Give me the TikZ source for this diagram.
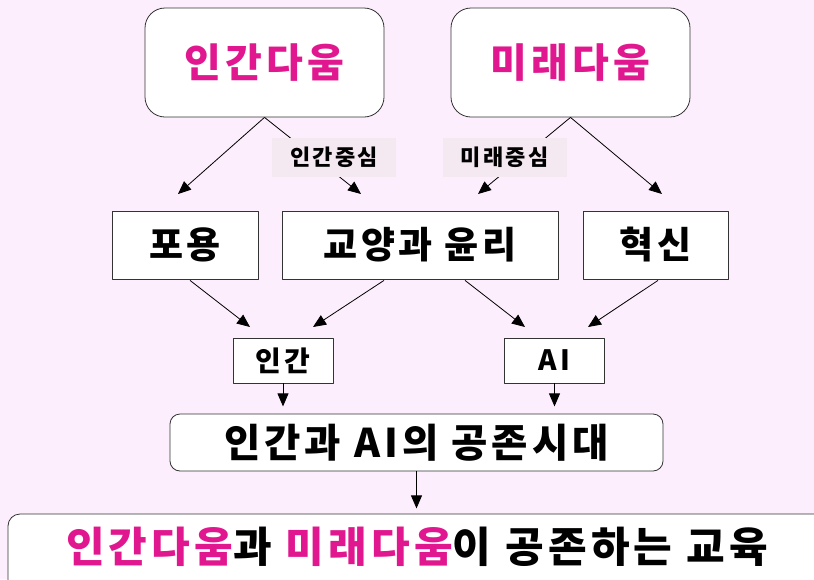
\documentclass[tikz,border=0pt]{standalone}
\usepackage{fontspec}
\setmainfont{Noto Sans CJK KR}[LetterSpace=10,BoldFont={Noto Sans CJK KR Black}]
\usetikzlibrary{arrows.meta,calc,positioning}
\definecolor{bgpink}{HTML}{FCEEFC}
\definecolor{dahot}{HTML}{E0178F}
\definecolor{tagbg}{HTML}{F4E8F1}
\tikzset{
  bigbox/.style={draw=black!80,fill=white,rounded corners=20pt,minimum width=239pt,minimum height=109pt,text=dahot,font=\fontsize{40}{42}\selectfont\bfseries},
  midbox/.style={draw=black!80,fill=white,minimum height=68pt,font=\fontsize{37}{39}\selectfont\bfseries},
  smallbox/.style={draw=black!80,fill=white,minimum width=100pt,minimum height=45pt,font=\fontsize{28}{30}\selectfont\bfseries},
  tagbox/.style={fill=tagbg,minimum width=124pt,minimum height=39pt,font=\fontsize{22}{24}\selectfont\bfseries},
  erabox/.style={draw=black!80,fill=white,rounded corners=10pt,minimum width=493pt,minimum height=57pt,font=\fontsize{39.5}{41}\selectfont\bfseries},
  arr/.style={-{Triangle[length=13pt,width=11pt]},black,line width=0.8pt}
}
\begin{document}
\begin{tikzpicture}[x=1pt,y=-1pt,line join=round,line width=0.8pt]
\fill[bgpink] (0,0) rectangle (814,579);
\useasboundingbox (0,0) rectangle (814,579);
\clip (0,0) rectangle (814,579);
% top row
\node[bigbox] (ingan) at (264.5,62.5) {인간다움};
\node[bigbox] (mirae) at (570.5,62.5) {미래다움};
% middle row
\node[midbox,minimum width=146pt] (poyong) at (185,245) {포용};
\node[midbox,minimum width=276pt] (gyoyang) at (420,245) {교양과 윤리};
\node[midbox,minimum width=145pt] (hyeoksin) at (655.5,245) {혁신};
% lower row
\node[smallbox] (saram) at (283,360.5) {인간};
\node[smallbox] (ai) at (554.5,360.5) {AI};
\node[erabox] (era) at (416.5,442.5) {인간과 AI의 공존시대};
% bottom
\draw[draw=black!80,fill=white,rounded corners=12pt] (8,514) rectangle (850,620);
\node[font=\fontsize{42}{44}\selectfont\bfseries] (edu) at (417,547) {{\color{dahot}인간다움}과 {\color{dahot}미래다움}이 공존하는 교육};
% arrow ends
\coordinate (a1) at (178,194);
\coordinate (a2) at (361,194);
\coordinate (a3) at (478,194);
\coordinate (a4) at (662,194);
\coordinate (b1) at (250,327);
\coordinate (b2) at (313,327);
\coordinate (b3) at (525,327);
\coordinate (b4) at (588,327);
\draw[arr] (ingan.south)--(a1);
\draw[arr] (ingan.south)--(a2);
\draw[arr] (mirae.south)--(a3);
\draw[arr] (mirae.south)--(a4);
\draw[arr] ($(poyong.south)+(5,1)$)--(b1);
\draw[arr] ($(gyoyang.south)+(-36,1)$)--(b2);
\draw[arr] ($(gyoyang.south)+(45,1)$)--(b3);
\draw[arr] ($(hyeoksin.south)+(2.5,1)$)--(b4);
\draw[arr] (saram.south)--++(0,23);
\draw[arr] (ai.south)--++(0,23);
\draw[arr] (era.south)--++(0,37);
% labels on the top arrows
\node[tagbox] (ingantag) at (334,157.5) {인간중심};
\node[tagbox] (miraetag) at (504.5,157.5) {미래중심};
\end{tikzpicture}
\end{document}
